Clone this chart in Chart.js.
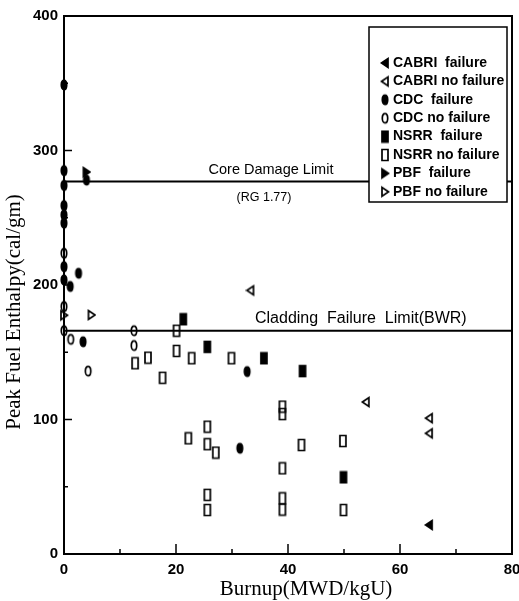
<!DOCTYPE html>
<html>
<head>
<meta charset="utf-8">
<script src="https://cdn.jsdelivr.net/npm/chart.js@4.4.1/dist/chart.umd.min.js"></script>
<style>
  html, body { margin: 0; padding: 0; background: #fff; }
  #wrap { width: 519px; height: 601px; }
</style>
</head>
<body>
<div id="wrap"><canvas id="chart" width="519" height="601"></canvas></div>
<script>
// [burnup MWD/kgU, peak fuel enthalpy cal/gm]
var cabriFailure = [[65.2, 21.6]];
var cabriNoFailure = [[33.3, 196], [53.9, 113], [65.2, 101], [65.2, 89.7]];
var cdcFailure = [[0, 348.7], [0, 285], [0, 274], [0, 259], [0, 252], [0, 246], [0, 213.6], [0, 203.7],
                  [1.1, 198.9], [2.6, 208.7], [3.4, 157.8], [4, 278], [32.7, 135.6], [31.4, 78.6]];
var cdcNoFailure = [[0, 223.6], [0, 184], [0, 166], [1.2, 159.6], [4.3, 136], [12.5, 166], [12.5, 155]];
var nsrrFailure = [[21.3, 174.5], [25.6, 154], [35.7, 145.5], [42.6, 136], [49.9, 57]];
var nsrrNoFailure = [[12.7, 141.8], [15, 146], [17.6, 131], [20.1, 166], [20.1, 151], [22.8, 145.5],
                     [29.9, 145.5], [39, 109.6], [39, 104], [22.2, 86], [25.6, 94.7], [25.6, 81.6],
                     [27.1, 75.4], [42.4, 81], [49.8, 84], [39, 63.7], [25.6, 44], [25.6, 32.7],
                     [39, 41.4], [39, 33], [49.9, 32.7]];
var pbfFailure = [[4, 284]];
var pbfNoFailure = [[0, 177.5], [4.9, 177.7]];

var coreDamageLimit = 277;
var claddingLimit = 166;

var xTicks = [0, 20, 40, 60, 80];
var xMinorTicks = [10, 30, 50, 70];
var yTicks = [0, 100, 200, 300, 400];
var yMinorTicks = [50, 150, 250, 350];

var legendLabels = ['CABRI  failure', 'CABRI no failure', 'CDC  failure', 'CDC no failure',
                    'NSRR  failure', 'NSRR no failure', 'PBF  failure', 'PBF no failure'];

// small canvases used as point styles
function marker(shape, filled) {
    var c = document.createElement('canvas');
    c.width = 10; c.height = 14;
    var g = c.getContext('2d');
    g.fillStyle = '#000';
    g.strokeStyle = '#000';
    g.lineWidth = 1.7;
    g.beginPath();
    if (shape == 'oval') g.ellipse(5, 7, 2.7, 4.7, 0, 0, Math.PI * 2);
    if (shape == 'rect') g.rect(2, 1.5, 6, 11);
    if (shape == 'left') { g.moveTo(1.5, 7); g.lineTo(8, 2.5); g.lineTo(8, 11.5); g.closePath(); }
    if (shape == 'right') { g.moveTo(8.5, 7); g.lineTo(2, 2.5); g.lineTo(2, 11.5); g.closePath(); }
    if (filled) g.fill();
    g.stroke();
    return c;
}

var styles = [marker('left', true), marker('left', false), marker('oval', true), marker('oval', false),
              marker('rect', true), marker('rect', false), marker('right', true), marker('right', false)];
var series = [cabriFailure, cabriNoFailure, cdcFailure, cdcNoFailure, nsrrFailure, nsrrNoFailure, pbfFailure, pbfNoFailure];

var datasets = series.map(function (pts, i) {
    return {
        label: legendLabels[i],
        data: pts.map(function (p) { return { x: p[0], y: p[1] }; }),
        pointStyle: styles[i],
        pointRadius: 5,
        clip: false
    };
});

[coreDamageLimit, claddingLimit].forEach(function (v) {
    datasets.push({
        type: 'line',
        data: [{ x: 0, y: v }, { x: 80, y: v }],
        borderColor: '#000',
        borderWidth: 2,
        pointRadius: 0
    });
});

// frame, inward tick marks, axis titles, limit captions and the legend box
var decorations = {
    id: 'decorations',
    afterDraw: function (chart) {
        var ctx = chart.ctx, a = chart.chartArea;
        var x = chart.scales.x, y = chart.scales.y;
        ctx.save();
        ctx.strokeStyle = '#000';
        ctx.lineWidth = 2;
        ctx.strokeRect(a.left, a.top, a.right - a.left, a.bottom - a.top);

        ctx.lineWidth = 1.5;
        function tick(x1, y1, x2, y2) { ctx.beginPath(); ctx.moveTo(x1, y1); ctx.lineTo(x2, y2); ctx.stroke(); }
        xTicks.forEach(function (v) { var p = x.getPixelForValue(v); tick(p, a.bottom, p, a.bottom - 10); });
        xMinorTicks.forEach(function (v) { var p = x.getPixelForValue(v); tick(p, a.bottom, p, a.bottom - 5); });
        yTicks.forEach(function (v) { var p = y.getPixelForValue(v); tick(a.left, p, a.left + 8, p); });
        yMinorTicks.forEach(function (v) { var p = y.getPixelForValue(v); tick(a.left, p, a.left + 4, p); });

        ctx.fillStyle = '#000';
        ctx.textBaseline = 'middle';
        ctx.textAlign = 'center';

        // axis titles sit a little off the axis centre
        ctx.font = '21px "Liberation Serif", "Times New Roman", serif';
        ctx.fillText('Burnup(MWD/kgU)', 306, 589);
        ctx.save();
        ctx.translate(14, 312);
        ctx.rotate(-Math.PI / 2);
        ctx.fillText('Peak Fuel Enthalpy(cal/gm)', 0, 0);
        ctx.restore();

        ctx.font = '14.5px "Liberation Sans", Arial, sans-serif';
        ctx.fillText('Core Damage Limit', 271, y.getPixelForValue(coreDamageLimit) - 11);
        ctx.font = '12.5px "Liberation Sans", Arial, sans-serif';
        ctx.fillText('(RG 1.77)', 264, y.getPixelForValue(coreDamageLimit) + 16);
        ctx.font = '16px "Liberation Sans", Arial, sans-serif';
        ctx.textAlign = 'left';
        ctx.fillText('Cladding  Failure  Limit(BWR)', 255, y.getPixelForValue(claddingLimit) - 12);

        // legend
        var bx = 369, by = 27, bw = 138, bh = 175;
        ctx.fillStyle = '#fff';
        ctx.fillRect(bx, by, bw, bh);
        ctx.lineWidth = 1.5;
        ctx.strokeRect(bx, by, bw, bh);
        ctx.fillStyle = '#000';
        ctx.font = 'bold 14px "Liberation Sans", Arial, sans-serif';
        legendLabels.forEach(function (t, i) {
            var ly = 63 + i * 18.4;
            var img = styles[i];
            ctx.drawImage(img, 385 - img.width / 2, ly - img.height / 2);
            ctx.fillText(t, 393, ly);
        });
        ctx.restore();
    }
};

var tickFont = { family: '"Liberation Sans", Arial, sans-serif', size: 15, weight: 'bold' };

new Chart(document.getElementById('chart'), {
    type: 'scatter',
    data: { datasets: datasets },
    options: {
        responsive: false,
        animation: false,
        layout: { padding: { top: 16, right: 7, left: 0, bottom: 0 } },
        plugins: { legend: { display: false }, tooltip: { enabled: false } },
        scales: {
            x: {
                type: 'linear', min: 0, max: 80,
                ticks: { stepSize: 20, color: '#000', font: tickFont, padding: 7, maxRotation: 0 },
                grid: { display: false, drawTicks: false },
                border: { display: false },
                afterFit: function (s) { s.height = 47; s.paddingRight = 0; s.paddingLeft = 0; }
            },
            y: {
                type: 'linear', min: 0, max: 400,
                ticks: { stepSize: 100, color: '#000', font: tickFont, padding: 6 },
                grid: { display: false, drawTicks: false },
                border: { display: false },
                afterFit: function (s) { s.width = 64; }
            }
        }
    },
    plugins: [decorations]
});
</script>
</body>
</html>
